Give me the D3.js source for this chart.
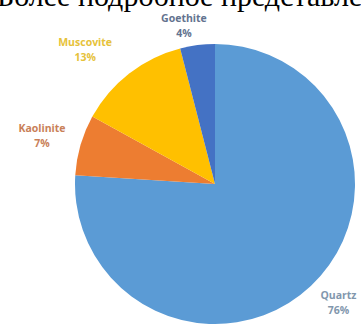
<!DOCTYPE html>
<html lang="ru">
<head>
    <meta charset="UTF-8">
    <title>Minerals</title>
    <script src="https://d3js.org/d3.v7.min.js"></script>
    <style>
        body { margin: 0; background: #fff; }
        .lbl { font-family: "Open Sans", sans-serif; font-size: 10.5px; font-weight: bold; }
        .head { font-family: "Liberation Serif", serif; font-size: 30px; }
    </style>
</head>
<body>
<script>
    var minerals = ['Quartz', 'Kaolinite', 'Muscovite', 'Goethite'];
    var shares = [76, 7, 13, 4];
    var fills = ['#5b9bd5', '#ed7d31', '#ffc000', '#4472c4'];
    var textColors = ['#8297ad', '#c98058', '#e6c23a', '#63738f'];

    var width = 361, height = 327;
    var cx = 215, cy = 184, r = 140;

    var svg = d3.select('body').append('svg')
        .attr('width', width)
        .attr('height', height);

    // cut-off heading line from the page above the chart
    svg.append('text')
        .attr('class', 'head')
        .attr('x', -3)
        .attr('y', 6)
        .text('Более подробное представление');

    var data = minerals.map(function (m, i) { return {name: m, value: shares[i], fill: fills[i], tc: textColors[i]}; });

    var pie = d3.pie().sort(null).value(function (d) { return d.value; });
    var arc = d3.arc().innerRadius(0).outerRadius(r);
    var labelArc = d3.arc().innerRadius(176).outerRadius(176);

    var g = svg.append('g').attr('transform', 'translate(' + cx + ',' + cy + ')');

    g.selectAll('path')
        .data(pie(data))
        .enter()
        .append('path')
        .attr('d', arc)
        .attr('fill', function (d) { return d.data.fill; });

    // small nudges like excel's best-fit label placement
    var nudge = {Quartz: [3, -10], Kaolinite: [-4, 0], Muscovite: [-22, 4], Goethite: [-9, 16]};

    var lbl = g.selectAll('.lbl')
        .data(pie(data))
        .enter()
        .append('text')
        .attr('class', 'lbl')
        .attr('text-anchor', 'middle')
        .attr('fill', function (d) { return d.data.tc; })
        .attr('transform', function (d) {
            var c = labelArc.centroid(d), n = nudge[d.data.name];
            return 'translate(' + (c[0] + n[0]) + ',' + (c[1] + n[1]) + ')';
        });

    lbl.append('tspan').attr('x', 0).attr('y', -3).text(function (d) { return d.data.name; });
    lbl.append('tspan').attr('x', 0).attr('y', 12).text(function (d) { return d.data.value + '%'; });
</script>
</body>
</html>
